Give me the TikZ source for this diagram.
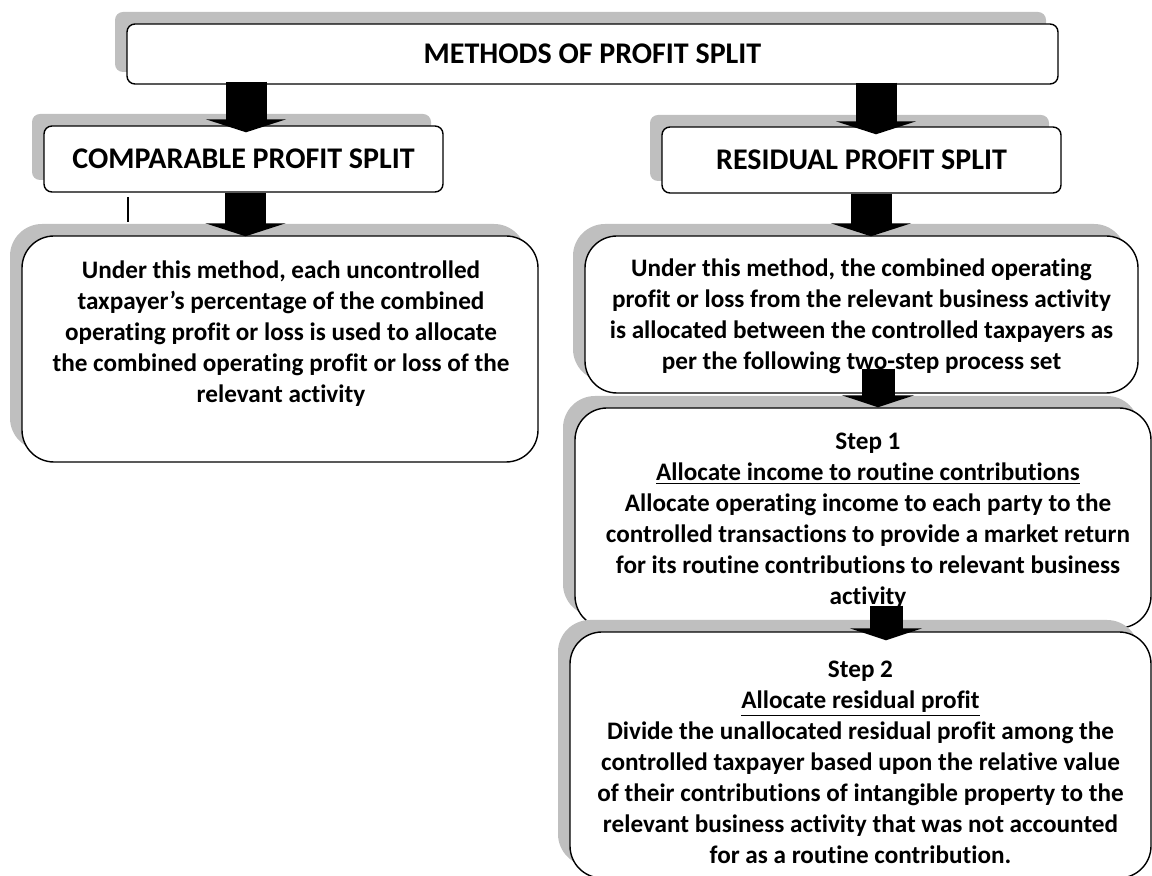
\documentclass[tikz,border=0pt]{standalone}
\usepackage{fontspec}
\setmainfont{Carlito}[Ligatures=NoCommon]
\usetikzlibrary{arrows.meta,shadows,calc}

\begin{document}
\begin{tikzpicture}[x=0.5pt,y=-0.5pt,
        box/.style={draw,line width=0.7pt,fill=white,rounded corners=4pt,
            drop shadow={shadow xshift=-6pt,shadow yshift=6pt,fill=gray!50,opacity=1}},
        bigbox/.style={box,rounded corners=16pt},
        head/.style={font=\fontsize{15}{18}\selectfont\bfseries},
        body/.style={font=\fontsize{12.6}{15.5}\selectfont\bfseries,align=center,inner sep=0pt,anchor=north},
        blockarrow/.style={line width=20.5pt,-{Triangle[width=40pt,length=6.5pt]}},
        smallarrow/.style={line width=16.5pt,-{Triangle[width=36pt,length=6pt]}}]
        \useasboundingbox (0,0) rectangle (1152,876);
        \draw
            (592.5,54) node[box,head,minimum width=465.5pt,minimum height=30pt] (title){METHODS OF PROFIT SPLIT}
            (243.5,159) node[box,head,minimum width=199.5pt,minimum height=33pt] (comp){COMPARABLE PROFIT SPLIT}
            (861.5,160) node[box,head,minimum width=199.5pt,minimum height=33pt] (res){RESIDUAL PROFIT SPLIT}
            (280,349) node[bigbox,minimum width=258pt,minimum height=113pt] (compdesc){}
            (861.5,314.5) node[bigbox,minimum width=276.5pt,minimum height=78.5pt] (resdesc){}
            (863,518) node[bigbox,minimum width=288pt,minimum height=110pt] (stepone){}
            (860.5,755) node[bigbox,minimum width=290.5pt,minimum height=123pt] (steptwo){};
        % texts of the big boxes
        \node[body] (compdesctext) at ($(compdesc.north)+(1,25)$)
            {Under this method, each uncontrolled\\
             taxpayer’s percentage of the combined\\
             operating profit or loss is used to allocate\\
             the combined operating profit or loss of the\\
             relevant activity};
        \node[body] (resdesctext) at ($(resdesc.north)+(0,23)$)
            {Under this method, the combined operating\\
             profit or loss from the relevant business activity\\
             is allocated between the controlled taxpayers as\\
             per the following two-step process set};
        \node[body] (steponetext) at ($(stepone.north)+(5,25)$)
            {Step 1\\
             \underline{Allocate income to routine contributions}\\
             Allocate operating income to each party to the\\
             controlled transactions to provide a market return\\
             for its routine contributions to relevant business\\
             activity};
        \node[body] (steptwotext) at ($(steptwo.north)+(0,29)$)
            {Step 2\\
             \underline{Allocate residual profit}\\
             Divide the unallocated residual profit among the\\
             controlled taxpayer based upon the relative value\\
             of their contributions of intangible property to the\\
             relevant business activity that was not accounted\\
             for as a routine contribution.};
        \draw[line width=1pt] (128,197) -- (128,222);
        % block arrows
        \draw[blockarrow] ($(title.south -| comp.north)+(2.5,-3)$) -- ($(comp.north)+(2.5,7)$);
        \draw[blockarrow] ($(title.south -| res.north)+(14.5,-2)$) -- ($(res.north)+(14.5,8)$);
        \draw[blockarrow] ($(comp.south)+(2,0)$) -- ($(compdesc.north -| comp.south)+(2,1)$);
        \draw[blockarrow] ($(res.south)+(9.5,0)$) -- ($(resdesc.north -| res.south)+(9.5,1)$);
        \draw[smallarrow] ($(resdesc.south)+(16.5,-25)$) -- ($(stepone.north)+(15,0)$);
        \draw[smallarrow] ($(stepone.south)+(23,-23)$) -- ($(steptwo.north)+(25.5,9)$);
\end{tikzpicture}
\end{document}
